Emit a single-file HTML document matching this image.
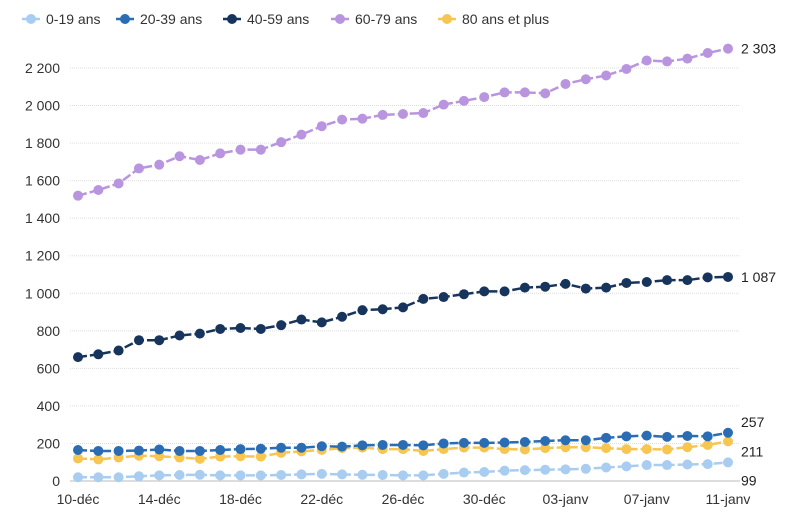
<!DOCTYPE html>
<html><head><meta charset="utf-8"><style>
body{margin:0;background:#fff;font-family:"Liberation Sans",sans-serif;}
svg text{font-family:"Liberation Sans",sans-serif;}
</style></head><body>
<svg id="c" width="804" height="524"></svg>
<script>
const categories=["10-déc","11-déc","12-déc","13-déc","14-déc","15-déc","16-déc","17-déc","18-déc","19-déc","20-déc","21-déc","22-déc","23-déc","24-déc","25-déc","26-déc","27-déc","28-déc","29-déc","30-déc","31-déc","01-janv","02-janv","03-janv","04-janv","05-janv","06-janv","07-janv","08-janv","09-janv","10-janv","11-janv"];
const seriesNames=["0-19 ans","20-39 ans","40-59 ans","60-79 ans","80 ans et plus"];
const s0_19=[20,20,20,25,30,32,33,30,30,30,32,35,38,35,33,32,30,30,38,45,48,55,58,60,62,65,72,78,85,85,88,90,99];
const s20_39=[165,160,160,162,168,160,160,165,170,172,177,177,185,183,190,192,192,190,200,203,203,205,208,213,217,217,230,238,242,235,240,238,257];
const s40_59=[660,675,695,750,750,775,785,810,815,810,830,860,845,875,910,915,925,970,980,995,1010,1010,1030,1035,1050,1025,1030,1055,1060,1070,1070,1085,1087];
const s60_79=[1520,1550,1585,1665,1685,1730,1710,1745,1765,1765,1805,1845,1890,1925,1930,1950,1955,1960,2005,2025,2045,2070,2070,2065,2115,2140,2160,2195,2240,2235,2250,2280,2303];
const s80=[120,115,125,135,132,125,118,130,132,130,150,158,165,175,178,170,170,160,170,178,178,170,168,175,180,180,175,170,170,168,180,192,211];
const yTicks=[0,200,400,600,800,1000,1200,1400,1600,1800,2000,2200];
const xTickIdx=[0,4,8,12,16,20,24,28,32];
const endLabels=["99","257","1 087","2 303","211"];

const colors=["#a9cdf0","#2a6db5","#17355c","#b995e0","#f6c650"];
const svg=document.getElementById('c');const NS="http://www.w3.org/2000/svg";
const x0=78,x1=728,y0=481,yTop=68;
const xs=i=>x0+(x1-x0)*i/(categories.length-1);
const ys=v=>y0-(y0-yTop)*v/2200;
function mk(t,a,p){const e=document.createElementNS(NS,t);for(const k in a)e.setAttribute(k,a[k]);(p||svg).appendChild(e);return e;}
const fmt=v=>v>=1000?Math.floor(v/1000)+" "+String(v%1000).padStart(3,"0"):String(v);
yTicks.forEach(v=>{
 if(v>0){const g=mk('line',{x1:70,x2:740,y1:ys(v),y2:ys(v),stroke:'#ddd','stroke-dasharray':'1,1'});
 
 }
 const t=mk('text',{x:60,y:ys(v)+5,'text-anchor':'end','font-size':14,fill:'#333'});t.textContent=fmt(v);
 
 
});
const base=mk('line',{x1:70,x2:740,y1:y0,y2:y0,stroke:'#bbb'});


xTickIdx.forEach(i=>{const t=mk('text',{x:xs(i),y:504,'text-anchor':'middle','font-size':14,fill:'#333'});t.textContent=categories[i];
 
 });
const data=[s0_19,s20_39,s40_59,s60_79,s80];
const order=[0,4,1,2,3];
order.forEach(k=>{
 const d=data[k];const g=mk('g',{});
 
 
 mk('polyline',{points:d.map((v,i)=>xs(i)+','+ys(v)).join(' '),fill:'none',stroke:colors[k],'stroke-width':2.5,'stroke-dasharray':'9,3'},g);
 d.forEach((v,i)=>{const c=mk('circle',{cx:xs(i),cy:ys(v),r:5,fill:colors[k]},g);
  
  });
});
const lblOff=[18,-11,0,0,10];
endLabels.forEach((l,k)=>{const d=data[k];const t=mk('text',{x:741,y:ys(d[d.length-1])+lblOff[k]+5,'font-size':14,fill:'#222'});t.textContent=l;
 
 });
// legend
const lx=[22,116,223,331,438];
seriesNames.forEach((n,k)=>{const g=mk('g',{});
 
 
 mk('line',{x1:lx[k],x2:lx[k]+18,y1:19,y2:19,stroke:colors[k],'stroke-width':2.5},g);
 mk('circle',{cx:lx[k]+9,cy:19,r:5,fill:colors[k]},g);
 const t=mk('text',{x:lx[k]+24,y:24,'font-size':14,fill:'#333'},g);t.textContent=n;});
</script>
</body></html>
